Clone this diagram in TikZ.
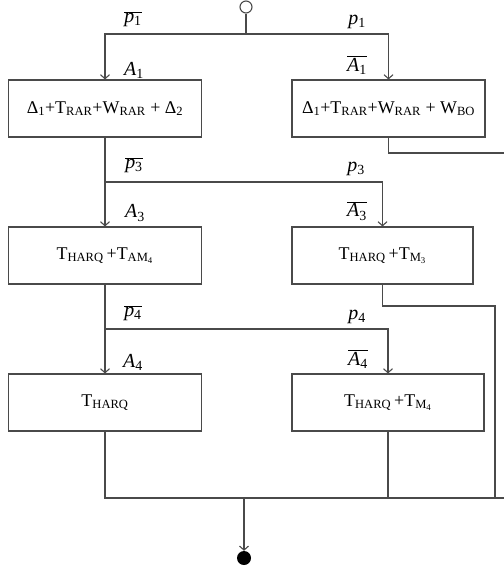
\documentclass[tikz,border=0pt]{standalone}
\usepackage{fontspec}
\setmainfont{Liberation Serif}
\usetikzlibrary{arrows.meta}
\definecolor{wire}{HTML}{4A4A4A}
\newcommand\sub[1]{\textsubscript{#1}}
\newcommand\lbl[2]{\textit{#1}\sub{#2}}
\newcommand\blbl[2]{$\overline{\hbox{\lbl{#1}{#2}}}$}
\begin{document}
\begin{tikzpicture}[x=1bp,y=-1bp,
  every node/.style={font=\fontsize{18}{21}\selectfont},
  box/.style={draw=wire,line width=1.1bp,minimum height=57bp,inner sep=0pt,fill=white},
  wide/.style={box,minimum width=193bp},
  wire/.style={draw=wire,line width=1.1bp},
  feed/.style={wire,-{Straight Barb[length=4bp,width=9bp]}},
  tag/.style={inner sep=0pt,font=\fontsize{20}{22}\selectfont}]
\useasboundingbox (0,0) rectangle (504,571);

% entry and exit points
\node[circle,draw=wire,line width=1.1bp,minimum size=12bp,inner sep=0pt] (start) at (246,7) {};
\node[circle,fill=black,minimum size=14bp,inner sep=0pt] (stop) at (244,558) {};

% blocks
\node[wide] (b1) at (105,108.5) {Δ\sub{1}+T\sub{RAR}+W\sub{RAR} + Δ\sub{2}};
\node[wide] (b2) at (388.5,108.5) {Δ\sub{1}+T\sub{RAR}+W\sub{RAR} + W\sub{BO}};
\node[wide] (b3) at (105,255.5) {T\sub{HARQ}\,+T\sub{AM\sub{4}}};
\node[box,minimum width=181bp] (b4) at (382.5,255.5) {T\sub{HARQ}\,+T\sub{M\sub{3}}};
\node[wide] (b5) at (105,402.5) {T\sub{HARQ}};
\node[box,minimum width=192bp] (b6) at (388,402.5) {T\sub{HARQ}\,+T\sub{M\sub{4}}};

% branch points
\coordinate (j1) at (246,34);
\coordinate (j2) at (105,182);
\coordinate (j3) at (105,329);
\coordinate (k2e) at (505,153);
\coordinate (k4e) at (495,306);
\coordinate (m5) at (105,498);
\coordinate (m6) at (388,498);
\coordinate (mo) at (244,498);
\coordinate (me) at (505,498);
\coordinate (m4) at (495,498);

% branches
\draw[wire] (start) -- (j1);
\draw[feed] (j1) -| (b1.north);
\draw[feed] (j1) -| (b2.north);
\draw[wire] (b1.south) -- (j2);
\draw[feed] (j2) -- (b3.north);
\draw[feed] (j2) -| (b4.north);
\draw[wire] (b3.south) -- (j3);
\draw[feed] (j3) -- (b5.north);
\draw[feed] (j3) -| (b6.north);

% merging paths
\draw[wire] (b2.south) |- (k2e) -- (me);
\draw[wire] (b4.south) |- (k4e) -- (m4);
\draw[wire] (b5.south) -- (m5) -- (me);
\draw[wire] (b6.south) -- (m6);
\draw[feed] (mo) -- (stop.north);

% branch labels
\node[tag] (lp1n) at (133,19) {\blbl{p}{1}};
\node[tag] (lp1) at (357,22) {\lbl{p}{1}};
\node[tag] (la1) at (134,70) {\lbl{A}{1}};
\node[tag] (la1n) at (357,65) {\blbl{A}{1}};
\node[tag] (lp3n) at (134,165) {\blbl{p}{3}};
\node[tag] (lp3) at (356,169) {\lbl{p}{3}};
\node[tag] (la3) at (135,213) {\lbl{A}{3}};
\node[tag] (la3n) at (357,211) {\blbl{A}{3}};
\node[tag] (lp4n) at (133,313) {\blbl{p}{4}};
\node[tag] (lp4) at (357,317) {\lbl{p}{4}};
\node[tag] (la4) at (133,362) {\lbl{A}{4}};
\node[tag] (la4n) at (358,359) {\blbl{A}{4}};
\end{tikzpicture}
\end{document}
